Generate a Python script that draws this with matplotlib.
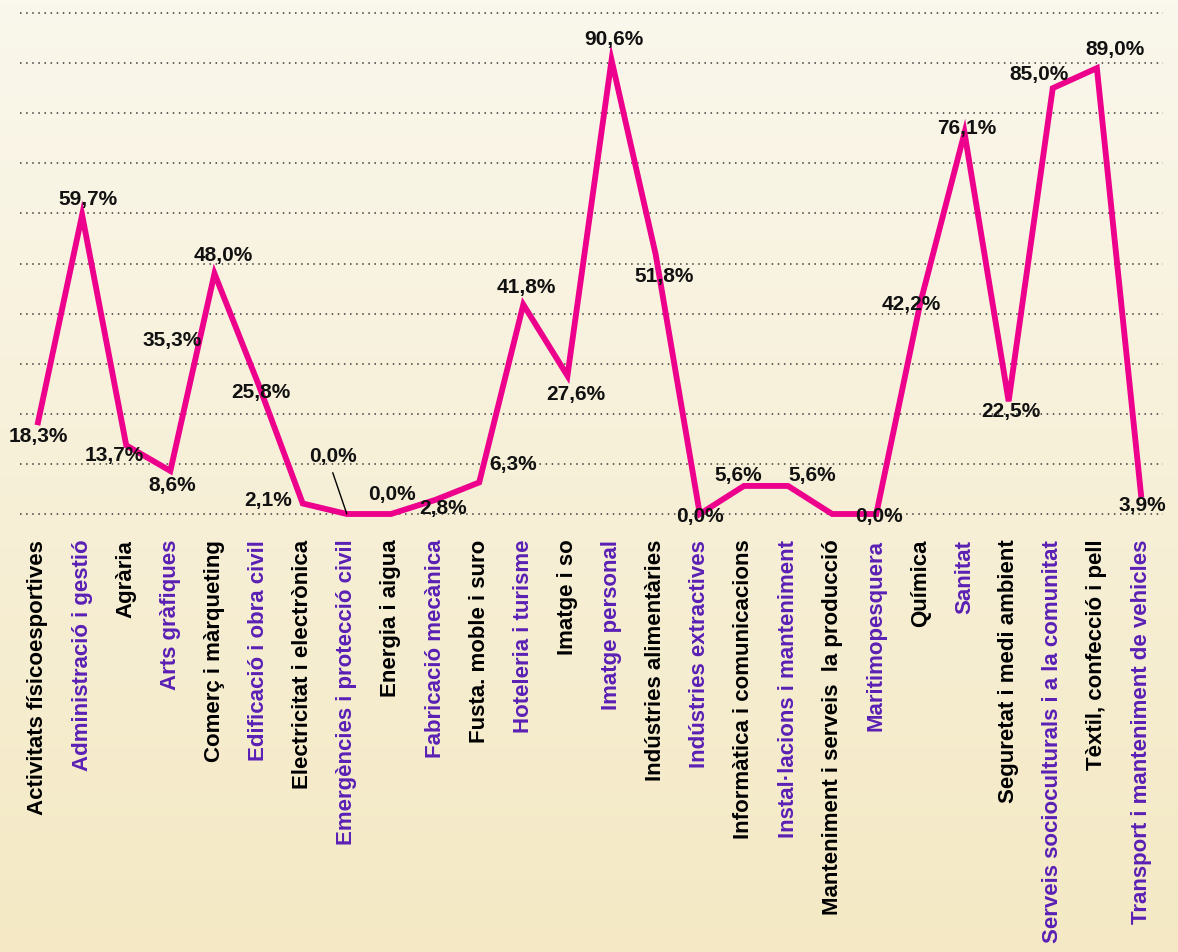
import numpy as np
import matplotlib
matplotlib.use('Agg')
import matplotlib.pyplot as plt
from matplotlib.colors import LinearSegmentedColormap

# categories and values (percent)
categories = ['Activitats físicoesportives', 'Administració i gestió', 'Agrària',
              'Arts gràfiques', 'Comerç i màrqueting', 'Edificació i obra civil',
              'Electricitat i electrònica', 'Emergències i protecció civil',
              'Energia i aigua', 'Fabricació mecànica', 'Fusta. moble i suro',
              'Hoteleria i turisme', 'Imatge i so', 'Imatge personal',
              'Indústries alimentàries', 'Indústries extractives',
              'Informàtica i comunicacions', 'Instal·lacions i manteniment',
              'Manteniment i serveis  la producció', 'Maritimopesquera', 'Química',
              'Sanitat', 'Seguretat i medi ambient',
              'Serveis socioculturals i a la comunitat', 'Tèxtil, confecció i pell',
              'Transport i manteniment de vehicles']
values = [18.3, 59.7, 13.7, 8.6, 48.0, 25.8, 2.1, 0.0, 0.0, 2.8, 6.3, 41.8, 27.6,
          90.6, 51.8, 0.0, 5.6, 5.6, 0.0, 0.0, 42.2, 76.1, 22.5, 85.0, 89.0, 3.9]
# labels as printed (Manteniment has none in the original)
value_labels = ['18,3%', '59,7%', '13,7%', '8,6%', '48,0%', '25,8%', '2,1%', '0,0%',
                '0,0%', '2,8%', '6,3%', '41,8%', '27,6%', '90,6%', '51,8%', '0,0%',
                '5,6%', '5,6%', '', '0,0%', '42,2%', '76,1%', '22,5%', '85,0%',
                '89,0%', '3,9%']
# stray label printed above Arts gràfiques
extra_label = '35,3%'
extra_value = 35.3
extra_index = 3

# label offsets in pixels (dx right, dy down) from each vertex to the text baseline centre
offsets = [(0, 20), (6, -10), (-12, 16), (2, 20), (9, -13), (2, 13), (-35, 3), (-14, -52),
           (1, -14), (8, 14), (34, -12), (3, -12), (8, 24), (2, -15), (8, 28), (0, 8),
           (-6, -5), (24, -5), (0, 0), (3, 8), (-9, 7), (2, 1), (2, 16), (-14, -8),
           (18, -13), (1, 17)]

purple = '#5a1fb4'
magenta = '#ec008c'
W, H = 1178, 952
fig = plt.figure(figsize=(W / 100, H / 100), dpi=100)

# background gradient
bg = fig.add_axes([0, 0, 1, 1], zorder=-10)
cmap = LinearSegmentedColormap.from_list('bg', ['#faf7ec', '#f4e9c4'])
bg.imshow(np.linspace(0, 1, 256).reshape(-1, 1), aspect='auto', cmap=cmap,
          extent=[0, 1, 0, 1], origin='upper')
bg.axis('off')

# main axes: 0 at y pixel 514, 5.01 px per unit; categories start at x=38 px, 44.12 px apart
px_x, x0 = 44.12, 38.0
px_y, y0 = 5.01, 514.0
ax_bottom_px = 530
ax = fig.add_axes([0, (H - ax_bottom_px) / H, 1, ax_bottom_px / H])
ax.patch.set_alpha(0)
ax.set_xlim(-x0 / px_x, (W - x0) / px_x)
ax.set_ylim(-(ax_bottom_px - y0) / px_y, y0 / px_y)
for s in ax.spines.values():
    s.set_visible(False)
ax.set_yticks([])

x = np.arange(len(categories))
left, right = (20 - x0) / px_x, (1163 - x0) / px_x
ax.hlines(np.arange(0, 101, 10), left, right, colors='#3a3a3a',
          linestyles=(0, (1, 3)), linewidth=1.1, zorder=1)

ax.plot(x, values, color=magenta, lw=4.2, solid_joinstyle='miter', zorder=3)

numfont = ['Liberation Sans Narrow', 'Liberation Sans']
for i, (v, lab, (dx, dy)) in enumerate(zip(values, value_labels, offsets)):
    if not lab:
        continue
    if i == 7:
        ax.annotate(lab, xy=(i, v), xytext=(dx, -dy), textcoords='offset pixels',
                    ha='center', va='baseline', fontsize=15, fontweight='bold',
                    family=numfont, color='#111111', zorder=4,
                    arrowprops=dict(arrowstyle='-', color='black', lw=1,
                                    shrinkA=3, shrinkB=0, relpos=(0.45, 0)))
    else:
        ax.annotate(lab, xy=(i, v), xytext=(dx, -dy), textcoords='offset pixels',
                    ha='center', va='baseline', fontsize=15, fontweight='bold',
                    family=numfont, color='#111111', zorder=4)
ax.annotate(extra_label, xy=(extra_index, extra_value), xytext=(2, -9),
            textcoords='offset pixels', ha='center', va='baseline', fontsize=15,
            fontweight='bold', family=numfont, color='#111111', zorder=4)

ax.set_xticks(x)
ax.set_xticklabels(categories, rotation=90, fontsize=16, fontweight='bold',
                   family='Liberation Sans')
ax.tick_params(axis='x', length=0, pad=7)
for i, t in enumerate(ax.get_xticklabels()):
    t.set_color(purple if i % 2 else 'black')

fig.savefig('out.png', dpi=100)
